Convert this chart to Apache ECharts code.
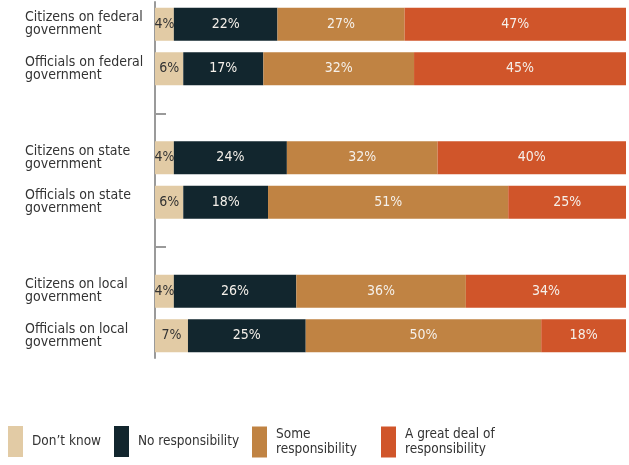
<!DOCTYPE html>
<html>
<head>
<meta charset="utf-8">
<script src="https://cdn.jsdelivr.net/npm/echarts@6/dist/echarts.min.js"></script>
<style>
  html, body { margin: 0; padding: 0; background: #ffffff; }
  #chart { width: 629px; height: 465px; }
</style>
</head>
<body>
<div id="chart"></div>
<script>
// Rows, top to bottom; the empty rows separate the three levels of government
const categories = [
  'Citizens on federal\ngovernment',
  'Officials on federal\ngovernment',
  '',
  'Citizens on state\ngovernment',
  'Officials on state\ngovernment',
  ' ',
  'Citizens on local\ngovernment',
  'Officials on local\ngovernment'
];

// Share of respondents (%) per answer
const dontKnow         = [4, 6, null, 4, 6, null, 4, 7];
const noResponsibility = [22, 17, null, 24, 18, null, 26, 25];
const someResp         = [27, 32, null, 32, 51, null, 36, 50];
const greatDeal        = [47, 45, null, 40, 25, null, 34, 18];

const seriesNames = ['Don\u2019t know', 'No responsibility', 'Some responsibility', 'A great deal of responsibility'];
const legendLabels = ['Don\u2019t know', 'No responsibility', 'Some\nresponsibility', 'A great deal of\nresponsibility'];
const colors = ['#e2cba5', '#12262e', '#c08343', '#d0552a'];
const labelColors = ['#333333', '#f5f0ea', '#f5f0ea', '#f5f0ea'];
const spacerRows = [2, 5];

const FONT = '"Liberation Sans Narrow", "DejaVu Sans Condensed", "Roboto", sans-serif';
const values = [dontKnow, noResponsibility, someResp, greatDeal];
const legendLeft = [8, 114, 252, 381];

const chart = echarts.init(document.getElementById('chart'));

chart.setOption({
  animation: false,
  textStyle: { fontFamily: FONT },
  grid: { left: 155, right: 3, top: 2, bottom: 107, containLabel: false },
  xAxis: {
    type: 'value', min: 0, max: 100, show: false
  },
  yAxis: {
    type: 'category',
    data: categories,
    inverse: true,
    axisLine: { show: true, lineStyle: { color: '#9a9a9a', width: 2 } },
    axisTick: {
      show: true,
      inside: true,
      length: 11,
      alignWithLabel: true,
      interval: (idx) => spacerRows.includes(idx),
      lineStyle: { color: '#9a9a9a', width: 2 }
    },
    axisLabel: {
      align: 'left',
      margin: 130,
      fontFamily: FONT,
      fontSize: 14,
      lineHeight: 13,
      color: '#333333',
      padding: [0, 0, 10, 0]
    },
    splitLine: { show: false }
  },
  legend: seriesNames.map((name, i) => ({
    data: [name],
    left: legendLeft[i],
    top: 426,
    padding: 0,
    icon: 'rect',
    itemWidth: 15,
    itemHeight: 31,
    selectedMode: false,
    formatter: () => legendLabels[i],
    textStyle: {
      fontFamily: FONT, fontSize: 13.5, lineHeight: 15, color: '#333333',
      padding: [2, 0, 0, 4]
    }
  })),
  series: seriesNames.map((name, i) => ({
    name: name,
    type: 'bar',
    stack: 'total',
    barWidth: 33,
    data: values[i],
    itemStyle: { color: colors[i] },
    label: {
      show: true,
      position: 'inside',
      formatter: (p) => p.value == null ? '' : p.value + '%',
      color: labelColors[i],
      fontFamily: FONT,
      fontSize: 14
    }
  }))
});
</script>
</body>
</html>
